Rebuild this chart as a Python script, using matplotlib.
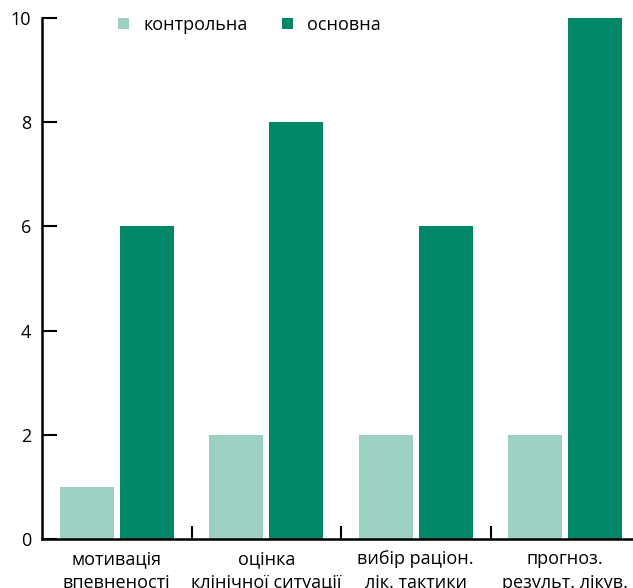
import matplotlib
matplotlib.use('Agg')
import matplotlib.pyplot as plt
import numpy as np

plt.rcParams['font.family'] = ['Open Sans', 'DejaVu Sans']

categories = ['мотивація\nвпевненості', 'оцінка\nклінічної ситуації',
              'вибір раціон.\nлік. тактики', 'прогноз.\nрезульт. лікув.']
control = [1, 2, 2, 2]
main = [6, 8, 6, 10]

light = '#9bd0c3'
dark = '#008768'

fig = plt.figure(figsize=(6.33, 5.88), dpi=100)
ax = fig.add_axes([42 / 633, 49 / 588, 598 / 633, 521 / 588])

x = np.arange(len(categories))
ax.bar(x - 0.2, control, width=0.36, color=light, label='контрольна')
ax.bar(x + 0.2, main, width=0.36, color=dark, label='основна')

ax.set_xlim(-0.5, 3.5)
ax.set_ylim(0, 10)
ax.set_yticks([0, 2, 4, 6, 8, 10])

ax.set_xticks(x)
ax.set_xticklabels(categories, fontsize=13, linespacing=1.45)
ax.set_xticks([0.5, 1.5, 2.5], minor=True)
ax.tick_params(axis='x', which='major', length=0, pad=8)
ax.tick_params(axis='x', which='minor', direction='in', length=9.5, width=1.5)
ax.tick_params(axis='y', direction='in', length=11, width=1.5, labelsize=13, pad=8)

for side in ['top', 'right']:
    ax.spines[side].set_visible(False)
for side in ['left', 'bottom']:
    ax.spines[side].set_linewidth(1.8)

ax.legend(loc='upper left', bbox_to_anchor=(0.1, 1.035), ncol=2, frameon=False,
          fontsize=13, handlelength=0.6, handleheight=0.6, columnspacing=1.9,
          handletextpad=0.8)

fig.savefig('out.png', dpi=100)
